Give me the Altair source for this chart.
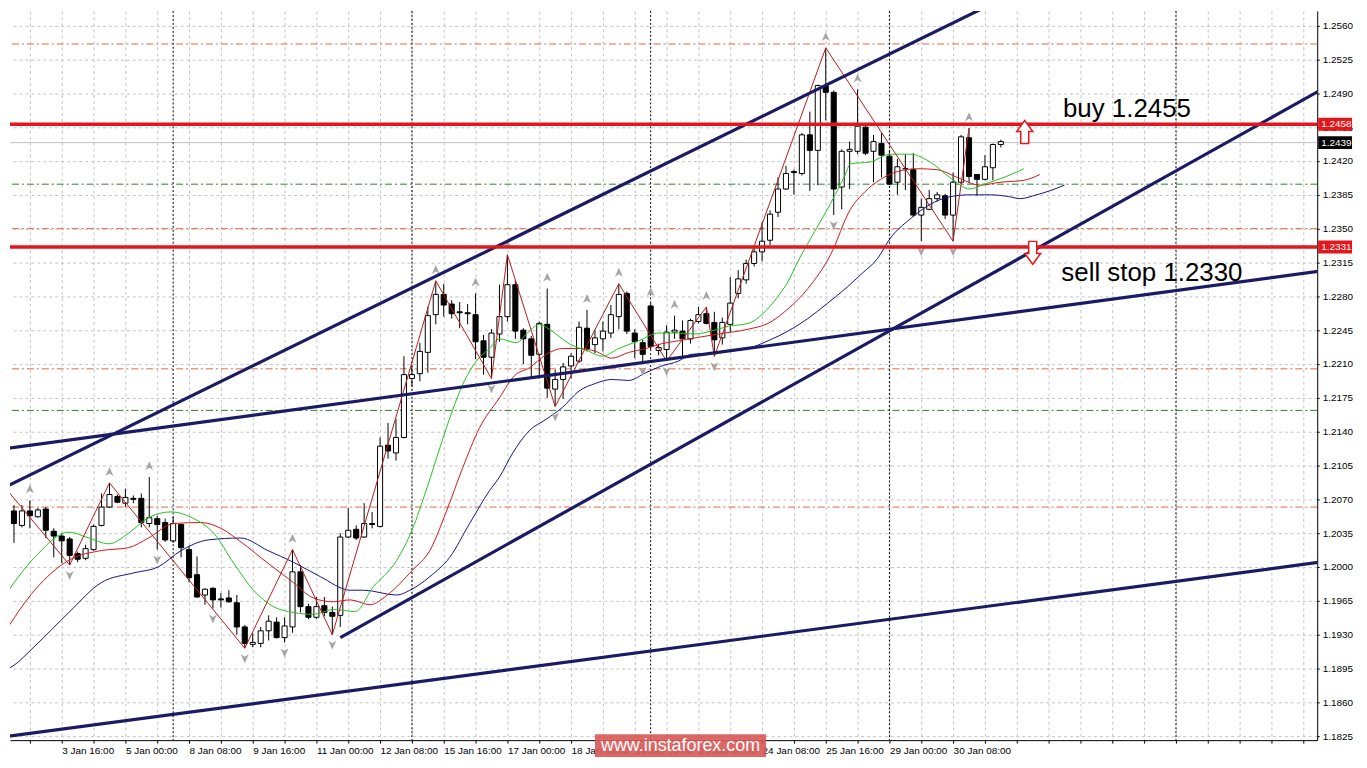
import altair as alt
import pandas as pd

# ---------------- data ----------------
idx = list(range(1, 127))
opens = [1.2070,1.2058,1.2043,1.2058,1.2052,1.2060,1.2037,1.2032,1.2029,1.2014,
1.2009,1.2018,1.2043,1.2062,1.2073,1.2066,1.2071,1.2071,1.2045,1.2050,
1.2046,1.2027,1.2044,1.2018,1.1992,1.1971,1.1978,1.1967,1.1968,1.1963,
1.1938,1.1920,1.1921,1.1934,1.1943,1.1927,1.1938,1.1995,1.1959,1.1948,
1.1960,1.1953,1.1950,1.2031,1.2039,1.2031,1.2045,1.2042,1.2126,1.2118,
1.2134,1.2195,1.2200,1.2222,1.2261,1.2282,1.2272,1.2264,1.2263,1.2261,
1.2234,1.2217,1.2241,1.2259,1.2292,1.2245,1.2236,1.2220,1.2251,1.2184,
1.2194,1.2208,1.2213,1.2247,1.2230,1.2236,1.2242,1.2259,1.2283,1.2242,
1.2232,1.2270,1.2224,1.2225,1.2243,1.2244,1.2236,1.2254,1.2262,1.2253,
1.2237,1.2251,1.2283,1.2297,1.2314,1.2326,1.2338,1.2367,1.2391,1.2409,
1.2407,1.2447,1.2431,1.2498,1.2491,1.2393,1.2430,1.2430,1.2455,1.2430,
1.2438,1.2425,1.2398,1.2412,1.2411,1.2364,1.2370,1.2381,1.2384,1.2364,
1.2398,1.2444,1.2406,1.2401,1.2413,1.2437]
highs = [1.2081,1.2064,1.2064,1.2069,1.2061,1.2062,1.2040,1.2035,1.2031,1.2016,
1.2023,1.2044,1.2076,1.2087,1.2075,1.2081,1.2074,1.2076,1.2093,1.2053,
1.2050,1.2052,1.2045,1.2022,1.2011,1.1978,1.1979,1.1973,1.1976,1.1971,
1.1940,1.1931,1.1938,1.1950,1.1948,1.1948,1.2018,1.2002,1.1962,1.1969,
1.1969,1.1959,1.2035,1.2061,1.2043,1.2066,1.2057,1.2134,1.2149,1.2153,
1.2218,1.2208,1.2232,1.2269,1.2296,1.2293,1.2276,1.2274,1.2272,1.2283,
1.2240,1.2246,1.2292,1.2323,1.2297,1.2247,1.2239,1.2254,1.2288,1.2204,
1.2211,1.2221,1.2254,1.2266,1.2245,1.2254,1.2271,1.2293,1.2285,1.2246,
1.2235,1.2273,1.2231,1.2250,1.2260,1.2255,1.2257,1.2269,1.2269,1.2264,
1.2258,1.2300,1.2307,1.2318,1.2331,1.2357,1.2369,1.2403,1.2415,1.2411,
1.2449,1.2471,1.2499,1.2537,1.2493,1.2432,1.2440,1.2494,1.2458,1.2447,
1.2449,1.2431,1.2422,1.2427,1.2428,1.2381,1.2390,1.2388,1.2386,1.2408,
1.2447,1.2454,1.2406,1.2426,1.2438,1.2442]
lows = [1.2057,1.2025,1.2041,1.2040,1.2051,1.2030,1.2010,1.2004,1.2002,1.2005,
1.2007,1.2017,1.2042,1.2061,1.2066,1.2062,1.2066,1.2041,1.2041,1.2018,
1.2026,1.2025,1.2010,1.1984,1.1968,1.1961,1.1957,1.1958,1.1963,1.1930,
1.1916,1.1917,1.1917,1.1924,1.1926,1.1922,1.1932,1.1953,1.1946,1.1946,
1.1949,1.1930,1.1938,1.2030,1.2028,1.2030,1.2040,1.2041,1.2112,1.2110,
1.2133,1.2187,1.2192,1.2201,1.2251,1.2259,1.2257,1.2247,1.2251,1.2215,
1.2199,1.2195,1.2233,1.2254,1.2236,1.2210,1.2195,1.2195,1.2175,1.2166,
1.2174,1.2195,1.2211,1.2223,1.2221,1.2223,1.2237,1.2246,1.2241,1.2216,
1.2213,1.2225,1.2219,1.2213,1.2236,1.2217,1.2231,1.2252,1.2251,1.2218,
1.2230,1.2243,1.2278,1.2293,1.2311,1.2316,1.2333,1.2362,1.2390,1.2385,
1.2405,1.2389,1.2395,1.2462,1.2364,1.2370,1.2391,1.2427,1.2426,1.2398,
1.2403,1.2395,1.2385,1.2390,1.2362,1.2337,1.2369,1.2378,1.2360,1.2337,
1.2396,1.2397,1.2384,1.2400,1.2400,1.2434]
closes = [1.2059,1.2045,1.2058,1.2053,1.2059,1.2038,1.2032,1.2027,1.2012,1.2008,
1.2019,1.2042,1.2062,1.2075,1.2067,1.2072,1.2070,1.2046,1.2051,1.2044,
1.2028,1.2045,1.2020,1.1989,1.1969,1.1977,1.1966,1.1966,1.1964,1.1938,
1.1921,1.1922,1.1934,1.1944,1.1927,1.1939,1.1995,1.1959,1.1948,1.1959,
1.1953,1.1949,1.2031,1.2038,1.2030,1.2045,1.2044,1.2125,1.2120,1.2134,
1.2199,1.2199,1.2223,1.2260,1.2282,1.2271,1.2262,1.2263,1.2262,1.2233,
1.2217,1.2242,1.2259,1.2292,1.2244,1.2236,1.2219,1.2252,1.2185,1.2194,
1.2207,1.2218,1.2248,1.2226,1.2237,1.2244,1.2261,1.2282,1.2244,1.2233,
1.2220,1.2228,1.2227,1.2243,1.2245,1.2236,1.2255,1.2261,1.2252,1.2235,
1.2253,1.2273,1.2298,1.2314,1.2326,1.2337,1.2365,1.2391,1.2407,1.2408,
1.2447,1.2431,1.2498,1.2491,1.2391,1.2430,1.2432,1.2456,1.2428,1.2440,
1.2426,1.2396,1.2414,1.2412,1.2364,1.2372,1.2381,1.2385,1.2364,1.2398,
1.2445,1.2404,1.2401,1.2414,1.2437,1.2440]

# Alligator lines: lips (green), teeth (red), jaw (blue)
lips_n = [0.5,4.6,8.9,11.4,13.9,16.4,18.9,21.75,24.6,27.1,29.6,32.1,34.6,37.1,39.6,42.1,44.9,47.1,50.1,52,
          53.9,55.5,57.1,58.4,60.1,61.75,63,65.1,66.75,68,69.25,71.75,74.25,75.9,78,80.5,83,85.5,87.6,89.6,
          91.75,94.25,96.1,98,99.25,100.5,102.6,104.6,106.4,107.1,109.6,112.1,114.6,117.1,119.6,122.1,123.9,126.4,128.9]
lips_p = [1.1966,1.2010,1.2036,1.2030,1.2024,1.2035,1.2051,1.2057,1.2050,1.2035,1.2004,1.1976,1.1959,1.1953,1.1951,1.1956,1.1954,1.1979,1.2007,1.2038,
          1.2082,1.2123,1.2162,1.2189,1.2213,1.2226,1.2236,1.2232,1.2244,1.2251,1.2246,1.2231,1.2223,1.2218,1.2226,1.2234,1.2242,1.2242,1.2241,1.2244,
          1.2249,1.2252,1.2262,1.2280,1.2295,1.2316,1.2347,1.2376,1.2405,1.2417,1.2419,1.2427,1.2427,1.2419,1.2403,1.2391,1.2396,1.2403,1.2412]
teeth_n = [0.5,4.6,8.9,13,16.4,18.9,22.1,25.5,28,30.5,33.9,37.1,39.6,42.1,44.25,46.75,48.9,52.1,54.25,56.4,
           58.4,60.5,63,64.9,66.75,68.9,70.9,73,75.1,77.1,79.25,81.4,83.4,85.5,87.6,90.5,94.25,96.75,99.25,101.75,
           104.6,107.1,108.9,110.9,113,115.5,118,120.5,123.4,125.9,128.9,130.9]
teeth_p = [1.1928,1.1976,1.2007,1.2017,1.2020,1.2030,1.2045,1.2046,1.2040,1.2026,1.2004,1.1984,1.1968,1.1964,1.1966,1.1961,1.1971,1.1997,1.2017,1.2059,
           1.2103,1.2144,1.2175,1.2198,1.2206,1.2220,1.2226,1.2226,1.2223,1.2216,1.2222,1.2226,1.2231,1.2234,1.2237,1.2241,1.2246,1.2252,1.2267,1.2288,
           1.2323,1.2370,1.2388,1.2401,1.2409,1.2412,1.2411,1.2403,1.2395,1.2398,1.2400,1.2406]
jaw_n = [0.5,1.75,4.6,8.9,13,17.1,20.1,23,26.4,30.5,33.9,37.1,40.5,44.25,45.9,50.1,51.75,54.25,56.75,59.25,
         61.75,63,64.6,66.75,68.9,70.9,73,75.1,77.1,79.25,81.4,83.4,85.5,87.1,89.6,91.75,94.25,96.75,99.25,101.75,
         104.25,106.75,108.6,110.5,112.1,114.6,117.1,119.6,122.1,124.6,127.1,128.4,130.5,132.1,134]
jaw_p = [1.1892,1.1897,1.1918,1.1953,1.1984,1.1994,1.2000,1.2017,1.2028,1.2030,1.2017,1.2005,1.1990,1.1976,1.1976,1.1971,1.1976,1.1990,1.2010,1.2045,
         1.2079,1.2093,1.2117,1.2141,1.2153,1.2165,1.2182,1.2190,1.2194,1.2193,1.2201,1.2208,1.2213,1.2220,1.2221,1.2223,1.2226,1.2234,1.2244,1.2257,
         1.2273,1.2290,1.2304,1.2319,1.2340,1.2360,1.2375,1.2383,1.2385,1.2385,1.2383,1.2381,1.2385,1.2389,1.2395]

# ZigZag turning points (bar index, H = high / L = low)
zz_idx = [1, 9, 14, 31, 37, 42, 55, 62, 64, 70, 78, 84, 89, 90, 104, 120, 122]
zz_kind = ["H","L","H","L","H","L","H","L","H","L","H","L","H","L","H","L","H"]
# Fractals
fr_up = [1, 4, 14, 19, 37, 55, 60, 64, 69, 74, 78, 82, 85, 89, 104, 108, 122]
fr_dn = [9, 20, 27, 31, 36, 42, 62, 70, 81, 84, 90, 105, 116, 120]

# Trend lines (two anchor points each)
tl_id = ["a", "a", "b", "b", "c", "c", "d", "d"]
tl_n = [0.5, 125.0, 43.0, 166.1, 0.5, 166.1, 0.5, 166.1]
tl_p = [1.2081, 1.2583, 1.1927, 1.2493, 1.2122, 1.2306, 1.1824, 1.2005]

# Horizontal levels
red_levels = [1.2458, 1.2331]
orange_levels = [1.2541, 1.2350, 1.2205, 1.2062]
green_levels = [1.2396, 1.2162]
bid_level = [1.2439]
week_starts = [22, 52, 82, 112, 148]

# Annotations
ann_text = ["buy 1.2455", "sell stop 1.2330"]
ann_n = [133.8, 133.6]
ann_p = [1.2465, 1.2296]
arrow_up = {"n": [129], "price": [1.2450]}
arrow_dn = {"n": [130], "price": [1.2325]}
red_tags = ["1.2458", "1.2331"]
red_tag_p = [1.2458, 1.2331]
black_tags = ["1.2439"]
black_tag_p = [1.2439]

tick_labels = ["2 Jan 08:00", "3 Jan 16:00", "5 Jan 00:00", "8 Jan 08:00", "9 Jan 16:00",
               "11 Jan 00:00", "12 Jan 08:00", "15 Jan 16:00", "17 Jan 00:00", "18 Jan 08:00",
               "19 Jan 16:00", "23 Jan 00:00", "24 Jan 08:00", "25 Jan 16:00", "29 Jan 00:00",
               "30 Jan 08:00"]
y_ticks = [round(1.1825 + 0.0035 * k, 4) for k in range(22)]
watermark = "www.instaforex.com"

# ---------------- tables ----------------
candles = pd.DataFrame({"n": idx, "open": opens, "high": highs, "low": lows, "close": closes})
lips = pd.DataFrame({"n": lips_n, "price": lips_p})
teeth = pd.DataFrame({"n": teeth_n, "price": teeth_p})
jaw = pd.DataFrame({"n": jaw_n, "price": jaw_p})
zz = pd.DataFrame({"n": zz_idx,
                   "price": [highs[i - 1] if k == "H" else lows[i - 1] for i, k in zip(zz_idx, zz_kind)]})
fu = pd.DataFrame({"n": fr_up, "price": [highs[i - 1] for i in fr_up]})
fd = pd.DataFrame({"n": fr_dn, "price": [lows[i - 1] for i in fr_dn]})
tl = pd.DataFrame({"id": tl_id, "n": tl_n, "price": tl_p})
ann = pd.DataFrame({"n": ann_n, "price": ann_p, "text": ann_text})

# ---------------- scales / axes ----------------
W, H = 1314, 733
XS = alt.Scale(domain=[1.5, 1.5 + W / 8], nice=False, zero=False)
YS = alt.Scale(domain=[1.18209, 1.25752], nice=False, zero=False)
labels_js = "[" + ",".join("'%s'" % s for s in tick_labels) + "]"
XAX = alt.Axis(values=list(range(4, 166, 4)), orient="bottom", title=None,
               labelExpr=f"(datum.value % 8 == 0 && datum.value <= 120) ? {labels_js}[datum.value / 8] : ''",
               grid=True, gridColor="#c4c4c4", gridDash=[3, 3], gridWidth=1,
               domainColor="black", domainWidth=1, tickColor="black", tickSize=3,
               labelFont="Liberation Sans", labelFontSize=10, labelColor="black",
               labelAlign="left", labelPadding=2, labelOverlap=False, labelFlush=False)
YAX = alt.Axis(values=y_ticks, orient="right", format=".4f", title=None,
               grid=True, gridColor="#c4c4c4", gridDash=[3, 3], gridWidth=1,
               domainColor="black", domainWidth=1, tickColor="black", tickSize=2,
               labelFont="Liberation Sans", labelFontSize=10, labelColor="black",
               labelPadding=3, labelOverlap=False, labelFlush=False)


def X(f):
    return alt.X(f"{f}:Q", scale=XS, axis=XAX, title=None)


def Y(f):
    return alt.Y(f"{f}:Q", scale=YS, axis=YAX, title=None)


layers = []
hl = pd.DataFrame({"price": orange_levels})
layers.append(alt.Chart(hl).mark_rule(color="#e2693f", strokeWidth=1, strokeDash=[7, 3, 2, 3]).encode(y=Y("price")))
layers.append(alt.Chart(pd.DataFrame({"price": green_levels})).mark_rule(color="#2f7d2f", strokeWidth=1, strokeDash=[7, 3, 2, 3]).encode(y=Y("price")))
layers.append(alt.Chart(pd.DataFrame({"price": bid_level})).mark_rule(color="#c0c0c0", strokeWidth=1).encode(y=Y("price")))
layers.append(alt.Chart(pd.DataFrame({"n": week_starts})).mark_rule(color="black", strokeWidth=1, strokeDash=[2, 2]).encode(x=X("n")))

# candles
layers.append(alt.Chart(candles).mark_rule(color="black", strokeWidth=1, clip=True).encode(x=X("n"), y=Y("low"), y2="high"))
layers.append(alt.Chart(candles).transform_calculate(x1="datum.n - 0.32", x2="datum.n + 0.32")
              .mark_rect(stroke="black", strokeWidth=1, clip=True)
              .encode(x=X("x1"), x2="x2", y=Y("open"), y2="close",
                      fill=alt.condition("datum.close >= datum.open", alt.value("white"), alt.value("black"))))

# alligator
layers.append(alt.Chart(jaw).mark_line(color="#14148a", strokeWidth=1, interpolate="monotone", clip=True).encode(x=X("n"), y=Y("price")))
layers.append(alt.Chart(teeth).mark_line(color="#d01818", strokeWidth=1, interpolate="monotone", clip=True).encode(x=X("n"), y=Y("price")))
layers.append(alt.Chart(lips).mark_line(color="#22c322", strokeWidth=1, interpolate="monotone", clip=True).encode(x=X("n"), y=Y("price")))
# zigzag
layers.append(alt.Chart(zz).mark_line(color="#b51c1c", strokeWidth=1, clip=True).encode(x=X("n"), y=Y("price")))

# fractals
UP = "M0,-1 L0.8,0.8 L0,0.3 L-0.8,0.8 Z"
DN = "M0,1 L0.8,-0.8 L0,-0.3 L-0.8,-0.8 Z"
layers.append(alt.Chart(fu).mark_point(shape=UP, filled=True, color="#a6a6a6", size=100, opacity=1, yOffset=-11, clip=True).encode(x=X("n"), y=Y("price")))
layers.append(alt.Chart(fd).mark_point(shape=DN, filled=True, color="#a6a6a6", size=100, opacity=1, yOffset=10, clip=True).encode(x=X("n"), y=Y("price")))

# trend lines
layers.append(alt.Chart(tl).mark_line(color="#1b1b64", strokeWidth=3.2, clip=True).encode(x=X("n"), y=Y("price"), detail="id:N"))

# red levels
layers.append(alt.Chart(pd.DataFrame({"price": red_levels})).mark_rule(color="#e3161b", strokeWidth=3.5).encode(y=Y("price")))

# block arrows
BUP = "M0,-1 L0.7,-0.05 L0.35,-0.05 L0.35,1 L-0.35,1 L-0.35,-0.05 L-0.7,-0.05 Z"
BDN = "M0,1 L0.7,0.05 L0.35,0.05 L0.35,-1 L-0.35,-1 L-0.35,0.05 L-0.7,0.05 Z"
layers.append(alt.Chart(pd.DataFrame(arrow_up)).mark_point(shape=BUP, filled=True, fill="white", stroke="#e3161b", strokeWidth=1.5, size=529, opacity=1).encode(x=X("n"), y=Y("price")))
layers.append(alt.Chart(pd.DataFrame(arrow_dn)).mark_point(shape=BDN, filled=True, fill="white", stroke="#e3161b", strokeWidth=1.5, size=529, opacity=1).encode(x=X("n"), y=Y("price")))

# annotations
layers.append(alt.Chart(ann).mark_text(align="left", baseline="alphabetic", font="Liberation Sans", fontSize=26, color="black").encode(x=X("n"), y=Y("price"), text="text:N"))

# price tags on axis
rt = pd.DataFrame({"price": red_tag_p, "label": red_tags})
bt = pd.DataFrame({"price": black_tag_p, "label": black_tags})
layers.append(alt.Chart(rt).mark_rule(color="#e3161b", strokeWidth=13).encode(x=alt.value(W + 1), x2=alt.value(W + 35), y=Y("price")))
layers.append(alt.Chart(bt).mark_rule(color="black", strokeWidth=13).encode(x=alt.value(W + 1), x2=alt.value(W + 35), y=Y("price")))
layers.append(alt.Chart(pd.concat([rt, bt])).mark_text(align="left", baseline="middle", font="Liberation Sans", fontSize=10, color="white").encode(x=alt.value(W + 4), y=Y("price"), text="label:N"))

# watermark
wm = pd.DataFrame({"t": [watermark]})
layers.append(alt.Chart(wm).mark_rect(color="#d85a5a", opacity=0.92).encode(x=alt.value(588), x2=alt.value(760), y=alt.value(727), y2=alt.value(750)))
layers.append(alt.Chart(wm).mark_text(align="center", baseline="middle", font="Liberation Sans", fontSize=18, color="white").encode(x=alt.value(674), y=alt.value(739), text="t:N"))

chart = (alt.layer(*layers)
         .properties(width=W, height=H, padding=0, background="white")
         .configure_view(stroke=None))

chart.save("out.html", embed_options={"renderer": "svg", "actions": False})
